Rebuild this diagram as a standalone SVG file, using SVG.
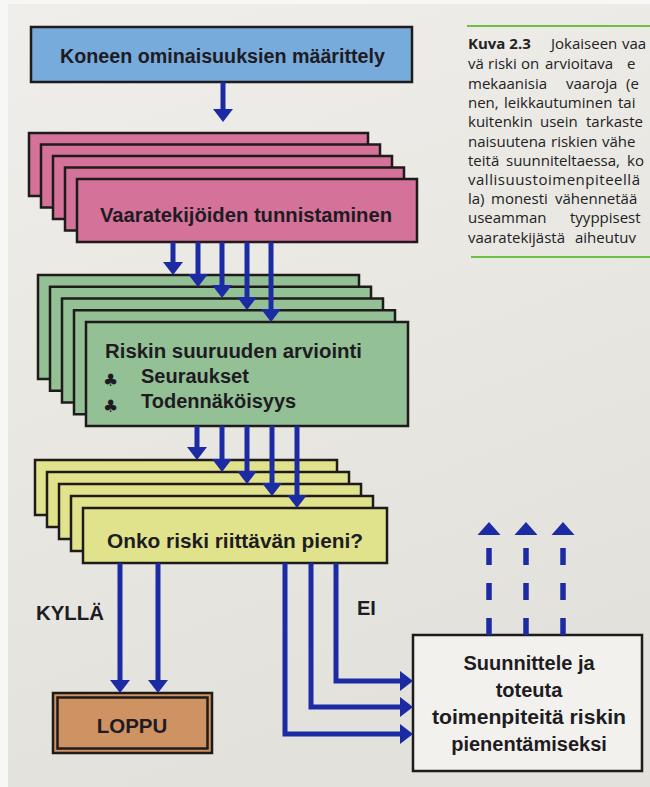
<svg xmlns="http://www.w3.org/2000/svg" width="650" height="787" viewBox="0 0 650 787">
<defs>
<linearGradient id="paper" x1="0" y1="0" x2="0.3" y2="1">
<stop offset="0" stop-color="#efeeea"/>
<stop offset="1" stop-color="#e2e1db"/>
</linearGradient>
<marker id="ah" markerUnits="userSpaceOnUse" markerWidth="14" markerHeight="22" refX="1" refY="11" orient="auto">
<path d="M0,1 L13,11 L0,21 Z" fill="#1c2aa3"/>
</marker>
<marker id="ahL" markerUnits="userSpaceOnUse" markerWidth="15" markerHeight="24" refX="1" refY="12" orient="auto">
<path d="M0,0.5 L13,12 L0,23.5 Z" fill="#1c2aa3"/>
</marker>
</defs>
<style>
.box{stroke:#1f1b1b;stroke-width:2.5}
.blue{fill:#77abdc}
.pink{fill:#d5729a}
.green{fill:#94c096}
.yellow{fill:#e0e38b}
.brown{fill:#cf9363}
.white{fill:#f2f1ed}
.t{font-family:"Liberation Sans",Arial,sans-serif;font-weight:bold;fill:#1e1c22}
.club{font-family:"DejaVu Sans",sans-serif;font-size:17px;fill:#1e1c22}
.c{stroke:#1c2aa3;stroke-width:5;fill:none}
.d{stroke:#1c2aa3;stroke-width:5.5;fill:none;stroke-dasharray:17 18}
.cap{font-family:"Open Sans","Noto Sans",sans-serif;font-size:15px;fill:#222222}
.gl{stroke:#6fbf45;stroke-width:2}
</style>
<rect x="0" y="0" width="650" height="787" fill="#f7f7f5"/>
<rect x="8" y="4" width="642" height="783" fill="url(#paper)"/>

<g id="caption">
<line class="gl" x1="467" y1="26" x2="650" y2="26"/>
<line class="gl" x1="471" y1="257" x2="650" y2="257"/>
<text class="cap" y="49"><tspan x="468" font-weight="bold">Kuva 2.3</tspan><tspan x="551">Jokaiseen</tspan><tspan x="622">vaa</tspan></text>
<text class="cap" y="69"><tspan x="468">vä</tspan><tspan x="488">riski</tspan><tspan x="521">on</tspan><tspan x="545">arvioitava</tspan><tspan x="627">e</tspan></text>
<text class="cap" y="89"><tspan x="468">mekaanisia</tspan><tspan x="566">vaaroja</tspan><tspan x="626">(e</tspan></text>
<text class="cap" y="108"><tspan x="468">nen,</tspan><tspan x="504">leikkautuminen</tspan><tspan x="618">tai</tspan></text>
<text class="cap" y="127"><tspan x="468">kuitenkin</tspan><tspan x="540">usein</tspan><tspan x="586">tarkaste</tspan></text>
<text class="cap" y="147"><tspan x="468">naisuutena</tspan><tspan x="551">riskien</tspan><tspan x="602">vähe</tspan></text>
<text class="cap" y="166"><tspan x="468">teitä</tspan><tspan x="506">suunniteltaessa,</tspan><tspan x="627">ko</tspan></text>
<text class="cap" x="468" y="185" textLength="172" lengthAdjust="spacing">vallisuustoimenpiteellä</text>
<text class="cap" y="204"><tspan x="468">la)</tspan><tspan x="491">monesti</tspan><tspan x="555">vähennetää</tspan></text>
<text class="cap" y="223"><tspan x="468">useamman</tspan><tspan x="570">tyyppisest</tspan></text>
<text class="cap" y="243"><tspan x="468">vaaratekijästä</tspan><tspan x="575">aiheutuv</tspan></text>
</g>

<g id="n-maarittely">
<rect class="box blue" x="31" y="27" width="381" height="55"/>
<text class="t" x="222.5" y="63" font-size="20" text-anchor="middle" textLength="325" lengthAdjust="spacingAndGlyphs">Koneen ominaisuuksien määrittely</text>
</g>

<g id="n-tunnistaminen">
<rect class="box pink" x="29" y="133" width="339" height="63"/>
<rect class="box pink" x="41" y="144.5" width="339" height="63"/>
<rect class="box pink" x="53" y="156" width="339" height="63"/>
<rect class="box pink" x="65" y="167.5" width="339" height="63"/>
<rect class="box pink" x="77" y="179" width="340" height="63"/>
<text class="t" x="246" y="222" font-size="20" text-anchor="middle" textLength="292" lengthAdjust="spacingAndGlyphs">Vaaratekijöiden tunnistaminen</text>
</g>

<g id="n-arviointi">
<rect class="box green" x="38" y="275" width="321" height="104"/>
<rect class="box green" x="50" y="286.75" width="321" height="104"/>
<rect class="box green" x="62" y="298.5" width="321" height="104"/>
<rect class="box green" x="74" y="310.25" width="321" height="104"/>
<rect class="box green" x="86" y="322" width="322" height="104"/>
<text class="t" x="105" y="358" font-size="20" textLength="257" lengthAdjust="spacingAndGlyphs">Riskin suuruuden arviointi</text>
<text class="club" x="103" y="386">♣</text>
<text class="t" x="141" y="383" font-size="20">Seuraukset</text>
<text class="club" x="103" y="412">♣</text>
<text class="t" x="141" y="408" font-size="20">Todennäköisyys</text>
</g>

<g id="n-riittava">
<rect class="box yellow" x="35" y="460" width="302" height="55"/>
<rect class="box yellow" x="47" y="472" width="302" height="55"/>
<rect class="box yellow" x="59" y="484" width="302" height="55"/>
<rect class="box yellow" x="71" y="496" width="302" height="55"/>
<rect class="box yellow" x="83" y="508" width="304" height="55"/>
<text class="t" x="235" y="548" font-size="20.5" text-anchor="middle" textLength="256" lengthAdjust="spacingAndGlyphs">Onko riski riittävän pieni?</text>
</g>

<g id="n-loppu">
<rect class="box brown" x="53" y="693" width="159" height="60" stroke-width="2"/>
<rect class="box brown" x="57.5" y="697.5" width="150" height="51" stroke-width="2"/>
<text class="t" x="132" y="733" font-size="20.5" text-anchor="middle">LOPPU</text>
</g>

<g id="n-toimenpiteet">
<rect class="box white" x="413" y="635" width="229" height="136" stroke-width="3"/>
<text class="t" x="529" y="670" font-size="20" text-anchor="middle">Suunnittele ja</text>
<text class="t" x="529" y="697" font-size="20" text-anchor="middle">toteuta</text>
<text class="t" x="529" y="724" font-size="20" text-anchor="middle" textLength="194" lengthAdjust="spacingAndGlyphs">toimenpiteitä riskin</text>
<text class="t" x="529" y="751" font-size="20" text-anchor="middle">pienentämiseksi</text>
</g>

<g id="labels">
<text class="t" x="36" y="620" font-size="19.5" textLength="68" lengthAdjust="spacingAndGlyphs">KYLLÄ</text>
<text class="t" x="357" y="615" font-size="20">EI</text>
</g>

<g id="connectors">
<line class="c" x1="223" y1="82" x2="223" y2="110" marker-end="url(#ah)"/>
<line class="c" x1="173" y1="242" x2="173" y2="263" marker-end="url(#ah)"/>
<line class="c" x1="198" y1="242" x2="198" y2="275" marker-end="url(#ah)"/>
<line class="c" x1="222" y1="242" x2="222" y2="286" marker-end="url(#ah)"/>
<line class="c" x1="247" y1="242" x2="247" y2="298" marker-end="url(#ah)"/>
<line class="c" x1="271" y1="242" x2="271" y2="310" marker-end="url(#ah)"/>
<line class="c" x1="197" y1="426" x2="197" y2="448" marker-end="url(#ah)"/>
<line class="c" x1="222" y1="426" x2="222" y2="460" marker-end="url(#ah)"/>
<line class="c" x1="247" y1="426" x2="247" y2="472" marker-end="url(#ah)"/>
<line class="c" x1="272" y1="426" x2="272" y2="484" marker-end="url(#ah)"/>
<line class="c" x1="297" y1="426" x2="297" y2="496" marker-end="url(#ah)"/>
<line class="c" x1="120" y1="563" x2="120" y2="681" marker-end="url(#ah)"/>
<line class="c" x1="158" y1="563" x2="158" y2="681" marker-end="url(#ah)"/>
<polyline class="c" points="285,563 285,734 401,734" marker-end="url(#ah)"/>
<polyline class="c" points="311,563 311,707 401,707" marker-end="url(#ah)"/>
<polyline class="c" points="336,563 336,681 401,681" marker-end="url(#ah)"/>
<line class="d" x1="489" y1="635" x2="489" y2="534" marker-end="url(#ahL)"/>
<line class="d" x1="526" y1="635" x2="526" y2="534" marker-end="url(#ahL)"/>
<line class="d" x1="563" y1="635" x2="563" y2="534" marker-end="url(#ahL)"/>
</g>
</svg>
